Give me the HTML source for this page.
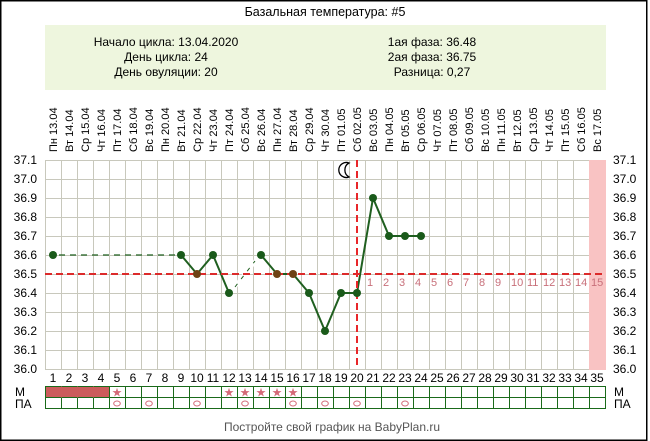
<!DOCTYPE html>
<html>
<head>
<meta charset="utf-8">
<style>
  html,body{margin:0;padding:0;background:#fff;}
  svg{display:block;}
  text{font-family:"Liberation Sans",Arial,sans-serif;}
</style>
</head>
<body>
<svg width="650" height="441" viewBox="0 0 650 441" xmlns="http://www.w3.org/2000/svg">
  <rect x="0" y="0" width="650" height="441" fill="#fff"/>
  <rect x="0.75" y="0.75" width="646" height="439.5" fill="none" stroke="#000" stroke-width="1.5"/>

  <text x="325" y="16" font-size="12.5" text-anchor="middle" fill="#000">Базальная температура: #5</text>

  <rect x="45" y="25" width="561" height="65" fill="#eef6de"/>
  <g font-size="12" fill="#000" text-anchor="middle">
    <text x="166" y="46">Начало цикла: 13.04.2020</text>
    <text x="166" y="61">День цикла: 24</text>
    <text x="166" y="76">День овуляции: 20</text>
    <text x="432" y="46">1ая фаза: 36.48</text>
    <text x="432" y="61">2ая фаза: 36.75</text>
    <text x="432" y="76">Разница: 0,27</text>
  </g>

  <g font-size="11" fill="#000">
    <text transform="translate(57,152) rotate(-90)">Пн 13.04</text>
    <text transform="translate(73,152) rotate(-90)">Вт 14.04</text>
    <text transform="translate(89,152) rotate(-90)">Ср 15.04</text>
    <text transform="translate(105,152) rotate(-90)">Чт 16.04</text>
    <text transform="translate(121,152) rotate(-90)">Пт 17.04</text>
    <text transform="translate(137,152) rotate(-90)">Сб 18.04</text>
    <text transform="translate(153,152) rotate(-90)">Вс 19.04</text>
    <text transform="translate(169,152) rotate(-90)">Пн 20.04</text>
    <text transform="translate(185,152) rotate(-90)">Вт 21.04</text>
    <text transform="translate(201,152) rotate(-90)">Ср 22.04</text>
    <text transform="translate(217,152) rotate(-90)">Чт 23.04</text>
    <text transform="translate(233,152) rotate(-90)">Пт 24.04</text>
    <text transform="translate(249,152) rotate(-90)">Сб 25.04</text>
    <text transform="translate(265,152) rotate(-90)">Вс 26.04</text>
    <text transform="translate(281,152) rotate(-90)">Пн 27.04</text>
    <text transform="translate(297,152) rotate(-90)">Вт 28.04</text>
    <text transform="translate(313,152) rotate(-90)">Ср 29.04</text>
    <text transform="translate(329,152) rotate(-90)">Чт 30.04</text>
    <text transform="translate(345,152) rotate(-90)">Пт 01.05</text>
    <text transform="translate(361,152) rotate(-90)">Сб 02.05</text>
    <text transform="translate(377,152) rotate(-90)">Вс 03.05</text>
    <text transform="translate(393,152) rotate(-90)">Пн 04.05</text>
    <text transform="translate(409,152) rotate(-90)">Вт 05.05</text>
    <text transform="translate(425,152) rotate(-90)">Ср 06.05</text>
    <text transform="translate(441,152) rotate(-90)">Чт 07.05</text>
    <text transform="translate(457,152) rotate(-90)">Пт 08.05</text>
    <text transform="translate(473,152) rotate(-90)">Сб 09.05</text>
    <text transform="translate(489,152) rotate(-90)">Вс 10.05</text>
    <text transform="translate(505,152) rotate(-90)">Пн 11.05</text>
    <text transform="translate(521,152) rotate(-90)">Вт 12.05</text>
    <text transform="translate(537,152) rotate(-90)">Ср 13.05</text>
    <text transform="translate(553,152) rotate(-90)">Чт 14.05</text>
    <text transform="translate(569,152) rotate(-90)">Пт 15.05</text>
    <text transform="translate(585,152) rotate(-90)">Сб 16.05</text>
    <text transform="translate(601,152) rotate(-90)">Вс 17.05</text>
  </g>

  <g stroke="#c8c8bc" stroke-width="1" fill="none">
    <path d="M45.5 160V369M61.5 160V369M77.5 160V369M93.5 160V369M109.5 160V369M125.5 160V369M141.5 160V369M157.5 160V369M173.5 160V369M189.5 160V369M205.5 160V369M221.5 160V369M237.5 160V369M253.5 160V369M269.5 160V369M285.5 160V369M301.5 160V369M317.5 160V369M333.5 160V369M349.5 160V369M365.5 160V369M381.5 160V369M397.5 160V369M413.5 160V369M429.5 160V369M445.5 160V369M461.5 160V369M477.5 160V369M493.5 160V369M509.5 160V369M525.5 160V369M541.5 160V369M557.5 160V369M573.5 160V369M589.5 160V369M605.5 160V369"/>
    <path d="M45 160.5H606M45 179.5H606M45 198.5H606M45 217.5H606M45 236.5H606M45 255.5H606M45 274.5H606M45 293.5H606M45 312.5H606M45 331.5H606M45 350.5H606M45 369.5H606"/>
  </g>
  <rect x="589" y="160" width="17" height="210" fill="#f9c3c3"/>

  <g font-size="12" fill="#000" text-anchor="end">
    <text x="37" y="164">37.1</text>
    <text x="37" y="183">37.0</text>
    <text x="37" y="202">36.9</text>
    <text x="37" y="221">36.8</text>
    <text x="37" y="240">36.7</text>
    <text x="37" y="259">36.6</text>
    <text x="37" y="278">36.5</text>
    <text x="37" y="297">36.4</text>
    <text x="37" y="316">36.3</text>
    <text x="37" y="335">36.2</text>
    <text x="37" y="354">36.1</text>
    <text x="37" y="373">36.0</text>
  </g>
  <g font-size="12" fill="#000">
    <text x="613" y="164">37.1</text>
    <text x="613" y="183">37.0</text>
    <text x="613" y="202">36.9</text>
    <text x="613" y="221">36.8</text>
    <text x="613" y="240">36.7</text>
    <text x="613" y="259">36.6</text>
    <text x="613" y="278">36.5</text>
    <text x="613" y="297">36.4</text>
    <text x="613" y="316">36.3</text>
    <text x="613" y="335">36.2</text>
    <text x="613" y="354">36.1</text>
    <text x="613" y="373">36.0</text>
  </g>

  <g font-size="11" fill="#c8707a">
    <text x="367" y="286">1</text>
    <text x="383" y="286">2</text>
    <text x="399" y="286">3</text>
    <text x="415" y="286">4</text>
    <text x="431" y="286">5</text>
    <text x="447" y="286">6</text>
    <text x="463" y="286">7</text>
    <text x="479" y="286">8</text>
    <text x="495" y="286">9</text>
    <text x="511" y="286">10</text>
    <text x="527" y="286">11</text>
    <text x="543" y="286">12</text>
    <text x="559" y="286">13</text>
    <text x="575" y="286">14</text>
    <text x="591" y="286">15</text>
  </g>

  <path d="M349 163 A7.5 7.5 0 1 0 349 177 A8 8 0 0 1 349 163 Z" fill="#fff" stroke="#000" stroke-width="1.3"/>

  <line x1="59" y1="255" x2="175" y2="255" stroke="#1f5f1f" stroke-width="1.3" stroke-dasharray="6 5"/>
  <line x1="233" y1="289" x2="257" y2="259" stroke="#fff" stroke-width="4"/>
  <line x1="235" y1="287" x2="255" y2="261" stroke="#1f5f1f" stroke-width="1" stroke-dasharray="4 6"/>

  <g fill="none" stroke="#1f5f1f" stroke-width="2" stroke-linejoin="round">
    <polyline points="181,255 197,274 213,255 229,293"/>
    <polyline points="261,255 277,274 293,274 309,293 325,331 341,293 357,293 373,198 389,236 405,236 421,236"/>
  </g>

  <line x1="45" y1="274" x2="606" y2="274" stroke="#dc2a2a" stroke-width="2" stroke-dasharray="7 4"/>
  <line x1="357" y1="160" x2="357" y2="369" stroke="#e8262a" stroke-width="2" stroke-dasharray="7 4"/>

  <g fill="#1a5a1a">
    <circle cx="53" cy="255" r="4"/>
    <circle cx="181" cy="255" r="4"/>
    <circle cx="213" cy="255" r="4"/>
    <circle cx="229" cy="293" r="4"/>
    <circle cx="261" cy="255" r="4"/>
    <circle cx="309" cy="293" r="4"/>
    <circle cx="325" cy="331" r="4"/>
    <circle cx="341" cy="293" r="4"/>
    <circle cx="357" cy="293" r="4"/>
    <circle cx="373" cy="198" r="4"/>
    <circle cx="389" cy="236" r="4"/>
    <circle cx="405" cy="236" r="4"/>
    <circle cx="421" cy="236" r="4"/>
  </g>
  <g fill="#6e4214">
    <circle cx="197" cy="274" r="4"/>
    <circle cx="277" cy="274" r="4"/>
    <circle cx="293" cy="274" r="4"/>
  </g>

  <g font-size="12" fill="#000" text-anchor="middle">
    <text x="53" y="382">1</text>
    <text x="69" y="382">2</text>
    <text x="85" y="382">3</text>
    <text x="101" y="382">4</text>
    <text x="117" y="382">5</text>
    <text x="133" y="382">6</text>
    <text x="149" y="382">7</text>
    <text x="165" y="382">8</text>
    <text x="181" y="382">9</text>
    <text x="197" y="382">10</text>
    <text x="213" y="382">11</text>
    <text x="229" y="382">12</text>
    <text x="245" y="382">13</text>
    <text x="261" y="382">14</text>
    <text x="277" y="382">15</text>
    <text x="293" y="382">16</text>
    <text x="309" y="382">17</text>
    <text x="325" y="382">18</text>
    <text x="341" y="382">19</text>
    <text x="357" y="382">20</text>
    <text x="373" y="382">21</text>
    <text x="389" y="382">22</text>
    <text x="405" y="382">23</text>
    <text x="421" y="382">24</text>
    <text x="437" y="382">25</text>
    <text x="453" y="382">26</text>
    <text x="469" y="382">27</text>
    <text x="485" y="382">28</text>
    <text x="501" y="382">29</text>
    <text x="517" y="382">30</text>
    <text x="533" y="382">31</text>
    <text x="549" y="382">32</text>
    <text x="565" y="382">33</text>
    <text x="581" y="382">34</text>
    <text x="597" y="382">35</text>
  </g>

  <rect x="45.5" y="386.5" width="64" height="11" fill="#cc5c5c"/>
  <g stroke="#1a6a1a" stroke-width="1" fill="none">
    <rect x="45.5" y="386.5" width="560" height="22"/>
    <path d="M45.5 397.5H605.5"/>
    <path d="M61.5 386V409M77.5 386V409M93.5 386V409M109.5 386V409M125.5 386V409M141.5 386V409M157.5 386V409M173.5 386V409M189.5 386V409M205.5 386V409M221.5 386V409M237.5 386V409M253.5 386V409M269.5 386V409M285.5 386V409M301.5 386V409M317.5 386V409M333.5 386V409M349.5 386V409M365.5 386V409M381.5 386V409M397.5 386V409M413.5 386V409M429.5 386V409M445.5 386V409M461.5 386V409M477.5 386V409M493.5 386V409M509.5 386V409M525.5 386V409M541.5 386V409M557.5 386V409M573.5 386V409M589.5 386V409"/>
  </g>
  <path d="M61.5 386.5V397.5M77.5 386.5V397.5M93.5 386.5V397.5" stroke="#cc5c5c" stroke-width="1"/>

  <g font-size="12" fill="#d46a78" text-anchor="middle" style="font-family:'DejaVu Sans',sans-serif">
    <text x="117" y="396.5" style="font-family:'DejaVu Sans',sans-serif">★</text>
    <text x="229" y="396.5" style="font-family:'DejaVu Sans',sans-serif">★</text>
    <text x="245" y="396.5" style="font-family:'DejaVu Sans',sans-serif">★</text>
    <text x="261" y="396.5" style="font-family:'DejaVu Sans',sans-serif">★</text>
    <text x="277" y="396.5" style="font-family:'DejaVu Sans',sans-serif">★</text>
    <text x="293" y="396.5" style="font-family:'DejaVu Sans',sans-serif">★</text>
  </g>
  <g fill="none" stroke="#d46a78" stroke-width="1">
    <ellipse cx="117" cy="403.5" rx="3.3" ry="2.5"/>
    <ellipse cx="149" cy="403.5" rx="3.3" ry="2.5"/>
    <ellipse cx="197" cy="403.5" rx="3.3" ry="2.5"/>
    <ellipse cx="245" cy="403.5" rx="3.3" ry="2.5"/>
    <ellipse cx="293" cy="403.5" rx="3.3" ry="2.5"/>
    <ellipse cx="325" cy="403.5" rx="3.3" ry="2.5"/>
    <ellipse cx="357" cy="403.5" rx="3.3" ry="2.5"/>
    <ellipse cx="405" cy="403.5" rx="3.3" ry="2.5"/>
  </g>

  <g font-size="12" fill="#000">
    <text x="15" y="396">M</text>
    <text x="15" y="408">ПА</text>
    <text x="614" y="396">M</text>
    <text x="614" y="408">ПА</text>
  </g>

  <text x="332" y="431" font-size="12" fill="#555" text-anchor="middle">Постройте свой график на BabyPlan.ru</text>
</svg>
</body>
</html>
